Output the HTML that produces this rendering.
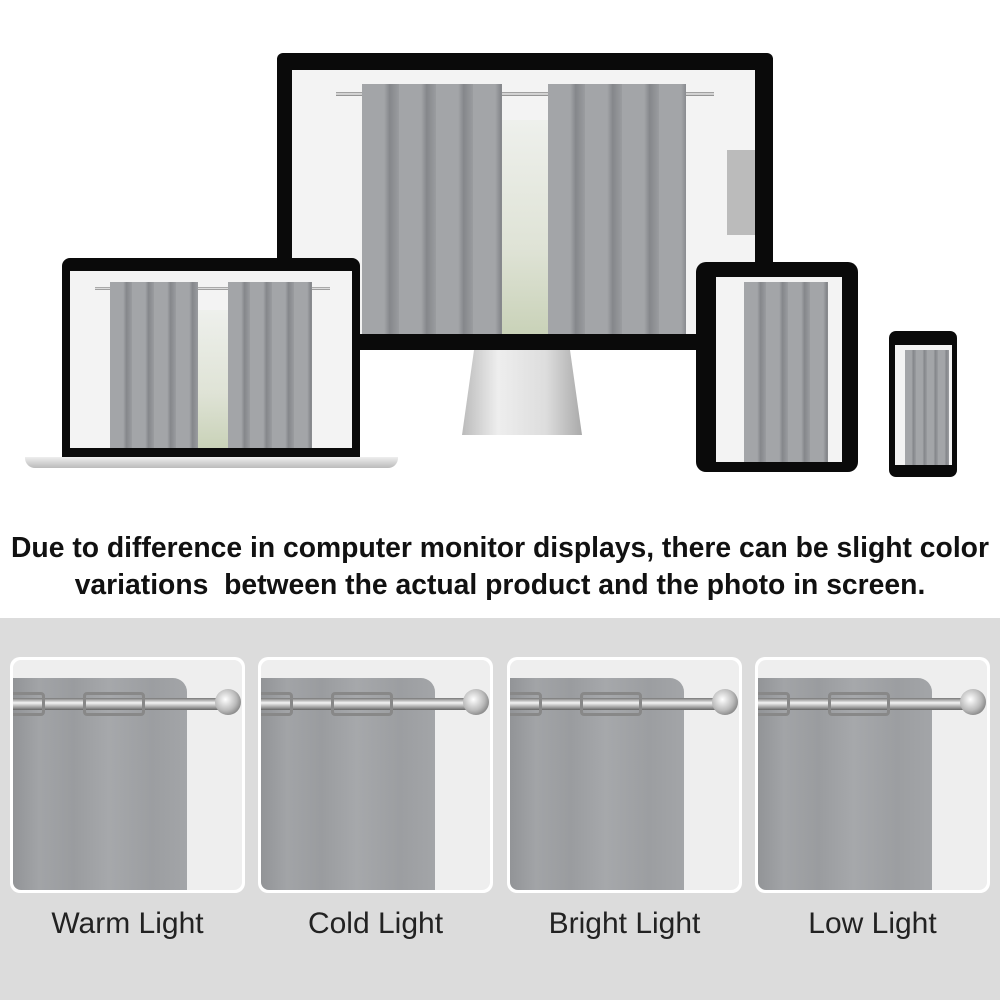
<!DOCTYPE html>
<html><head><style>
body{margin:0;width:1000px;height:1000px;position:relative;background:#fff;overflow:hidden;font-family:"Liberation Sans",Arial,sans-serif}
.a{position:absolute}
.cur{position:absolute;background:repeating-linear-gradient(90deg,#a3a5a8 0,#a3a5a8 60%,#85878b 75%,#9a9c9f 100%);}
.rod{position:absolute;height:4px;background:linear-gradient(#888,#eee,#777)}
.win{position:absolute;background:#f2f2f2}
.panel{position:absolute;top:657px;width:235px;height:236px;background:#fff;border-radius:10px}
.pin{position:absolute;left:3px;top:3px;right:3px;bottom:3px;background:#eeeeee;border-radius:8px;overflow:hidden}
.pc{position:absolute;left:0;top:18px;width:174px;bottom:0;background:linear-gradient(90deg,#929497 0,#a2a4a7 15%,#9a9c9f 35%,#a6a8ab 55%,#9c9ea1 80%,#a3a5a8 100%);border-radius:0 14px 0 0}
.prod{position:absolute;top:38px;left:0;width:215px;height:12px;background:linear-gradient(#777,#f4f4f4 40%,#999 80%,#666)}
.gr{position:absolute;top:32px;width:62px;height:24px;border:3px solid #888;border-radius:4px;box-sizing:border-box}
.fin{position:absolute;left:202px;top:29px;width:26px;height:26px;border-radius:50%;background:radial-gradient(circle at 40% 40%,#fff,#bbb 50%,#555);}
.lab{position:absolute;top:907px;width:245px;text-align:center;font-size:30px;color:#222}
</style></head><body>
<!-- monitor -->
<div class="a" style="left:277px;top:53px;width:496px;height:297px;background:#0a0a0a;border-radius:6px"></div>
<div class="a" style="left:292px;top:70px;width:463px;height:264px;background:#f3f3f3"></div>
<div class="win" style="left:502px;top:120px;width:73px;height:214px;background:linear-gradient(#eef0ec,#dfe3d6 60%,#c9d2b8)"></div>
<div class="rod" style="left:336px;top:92px;width:378px"></div>
<div class="cur" style="left:362px;top:84px;width:140px;height:250px;background-size:37px 100%"></div>
<div class="cur" style="left:548px;top:84px;width:138px;height:250px;background-size:37px 100%"></div>
<div class="a" style="left:727px;top:150px;width:28px;height:85px;background:#bbb"></div>
<div class="a" style="left:462px;top:350px;width:120px;height:85px;background:linear-gradient(90deg,#bbb,#eee 30%,#ddd 70%,#aaa);clip-path:polygon(10% 0,90% 0,100% 100%,0 100%)"></div>
<!-- laptop -->
<div class="a" style="left:62px;top:258px;width:298px;height:199px;background:#0a0a0a;border-radius:8px 8px 0 0"></div>
<div class="a" style="left:70px;top:271px;width:282px;height:177px;background:#f3f3f3"></div>
<div class="win" style="left:198px;top:310px;width:40px;height:138px;background:linear-gradient(#eef0ec,#dfe3d6 60%,#c9d2b8)"></div>
<div class="rod" style="left:95px;top:287px;width:235px;height:3px"></div>
<div class="cur" style="left:110px;top:282px;width:88px;height:166px;background-size:22px 100%"></div>
<div class="cur" style="left:228px;top:282px;width:84px;height:166px;background-size:22px 100%"></div>
<div class="a" style="left:25px;top:457px;width:373px;height:11px;background:linear-gradient(#eee,#bbb);border-radius:0 0 10px 10px"></div>
<!-- tablet -->
<div class="a" style="left:696px;top:262px;width:162px;height:210px;background:#0a0a0a;border-radius:10px"></div>
<div class="a" style="left:716px;top:277px;width:126px;height:185px;background:#f3f3f3"></div>
<div class="cur" style="left:744px;top:282px;width:84px;height:180px;background-size:22px 100%"></div>
<!-- phone -->
<div class="a" style="left:889px;top:331px;width:68px;height:146px;background:#0a0a0a;border-radius:7px"></div>
<div class="a" style="left:895px;top:345px;width:57px;height:120px;background:#f3f3f3"></div>
<div class="cur" style="left:905px;top:350px;width:44px;height:115px;background-size:11px 100%"></div>
<!-- text -->
<div class="a" style="left:-20px;top:529px;width:1040px;text-align:center;font-weight:bold;font-size:28.3px;line-height:37px;color:#111;white-space:nowrap">Due to difference in computer monitor displays, there can be slight color<br>variations&nbsp; between the actual product and the photo in screen.</div>
<!-- band -->
<div class="a" style="left:0;top:618px;width:1000px;height:382px;background:#dcdcdc"></div>
<div class="panel" style="left:10px"><div class="pin"><div class="pc"></div><div class="prod"></div><div class="gr" style="left:-30px"></div><div class="gr" style="left:70px"></div><div class="fin"></div></div></div>
<div class="panel" style="left:258px"><div class="pin"><div class="pc"></div><div class="prod"></div><div class="gr" style="left:-30px"></div><div class="gr" style="left:70px"></div><div class="fin"></div></div></div>
<div class="panel" style="left:507px"><div class="pin"><div class="pc"></div><div class="prod"></div><div class="gr" style="left:-30px"></div><div class="gr" style="left:70px"></div><div class="fin"></div></div></div>
<div class="panel" style="left:755px"><div class="pin"><div class="pc"></div><div class="prod"></div><div class="gr" style="left:-30px"></div><div class="gr" style="left:70px"></div><div class="fin"></div></div></div>
<div class="lab" style="left:5px">Warm Light</div>
<div class="lab" style="left:253px">Cold Light</div>
<div class="lab" style="left:502px">Bright Light</div>
<div class="lab" style="left:750px">Low Light</div>
</body></html>
